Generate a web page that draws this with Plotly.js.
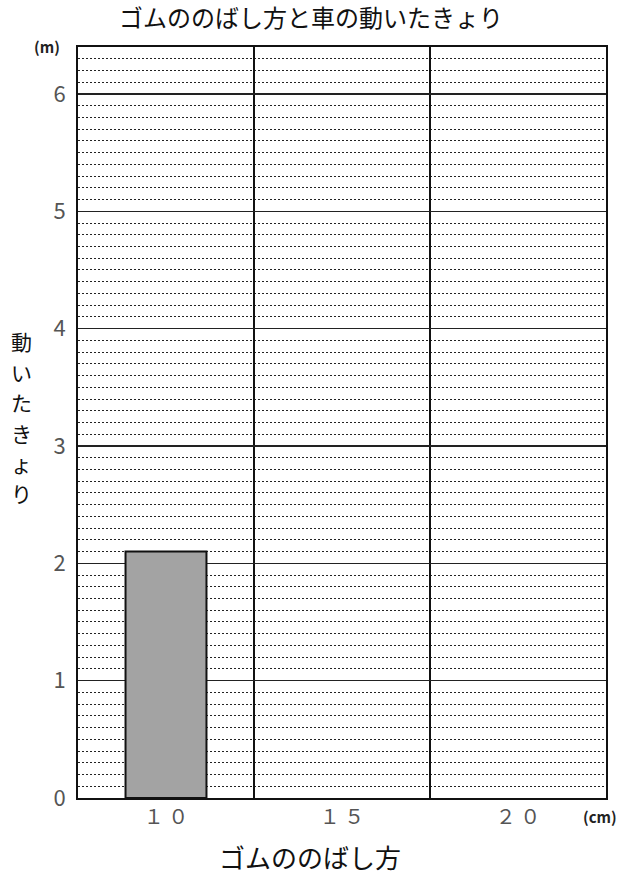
<!DOCTYPE html>
<html>
<head>
<meta charset="utf-8">
<script src="https://cdn.plot.ly/plotly-3.0.1.min.js"></script>
<style>html,body{margin:0;padding:0;background:#fff;}#chart{width:622px;height:874px;}</style>
</head>
<body>
<div id="chart"></div>
<script>
const categories = ['10', '15', '20'];
const tickLabels = ['１ ０', '１ ５', '２ ０'];
const distances = [2.1, null, null];
const yTicks = [0, 1, 2, 3, 4, 5, 6];
const yTitleChars = ['動', 'い', 'た', 'き', 'ょ', 'り'];

const FONT = '"Noto Sans CJK JP", "Noto Sans", sans-serif';

const trace = {
  type: 'bar',
  x: categories,
  y: distances,
  width: 0.46,
  marker: {color: '#a3a3a3', line: {color: '#111', width: 2}},
  hoverinfo: 'x+y'
};

const yTitleAnnotations = yTitleChars.map((ch, i) => ({
  text: ch, xref: 'paper', yref: 'paper', x: -0.107, y: 0.608 - i * 0.0405,
  xanchor: 'center', yanchor: 'middle', showarrow: false, borderpad: 0,
  font: {family: FONT, size: 21, color: '#111'}
}));

const layout = {
  width: 622, height: 874,
  margin: {l: 78, r: 16, t: 47, b: 76},
  paper_bgcolor: '#fff', plot_bgcolor: '#fff',
  showlegend: false,
  font: {family: FONT, color: '#333'},
  title: {text: 'ゴムののばし方と車の動いたきょり', x: 0.5, xanchor: 'center', y: 0.979, yanchor: 'middle',
          font: {family: FONT, size: 24, color: '#111'}},
  xaxis: {
    type: 'category',
    categoryorder: 'array', categoryarray: categories,
    tickvals: categories, ticktext: tickLabels,
    tickson: 'boundaries',
    ticks: '', showgrid: true, gridcolor: '#111', gridwidth: 2,
    showline: true, linecolor: '#111', linewidth: 2, mirror: true,
    tickfont: {family: FONT, size: 20, color: '#555'},
    zeroline: false, fixedrange: true
  },
  yaxis: {
    range: [0, 6.4],
    tickvals: yTicks, ticktext: yTicks.map(String),
    ticks: '', showgrid: true, gridcolor: '#222', gridwidth: 1.5,
    minor: {dtick: 0.1, showgrid: true, griddash: '2px,2px', gridcolor: '#222', gridwidth: 1},
    showline: true, linecolor: '#111', linewidth: 2, mirror: true,
    tickfont: {family: FONT, size: 22, color: '#555'},
    ticklabelstandoff: 6,
    zeroline: false, fixedrange: true
  },
  annotations: yTitleAnnotations.concat([
    {text: 'ゴムののばし方', xref: 'paper', yref: 'paper', x: 0.44, y: -0.078,
     xanchor: 'center', yanchor: 'middle', showarrow: false,
     font: {family: FONT, size: 26, color: '#111'}},
    {text: '<b>(cm)</b>', xref: 'paper', yref: 'paper', x: 1.025, y: -0.025,
     xanchor: 'right', yanchor: 'middle', showarrow: false,
     font: {family: FONT, size: 15, color: '#222'}},
    {text: '<b>(m)</b>', xref: 'paper', yref: 'paper', x: -0.03, y: 1.001,
     xanchor: 'right', yanchor: 'middle', showarrow: false,
     font: {family: FONT, size: 15, color: '#222'}}
  ])
};

Plotly.newPlot('chart', [trace], layout, {displayModeBar: false, staticPlot: true});
</script>
</body>
</html>
